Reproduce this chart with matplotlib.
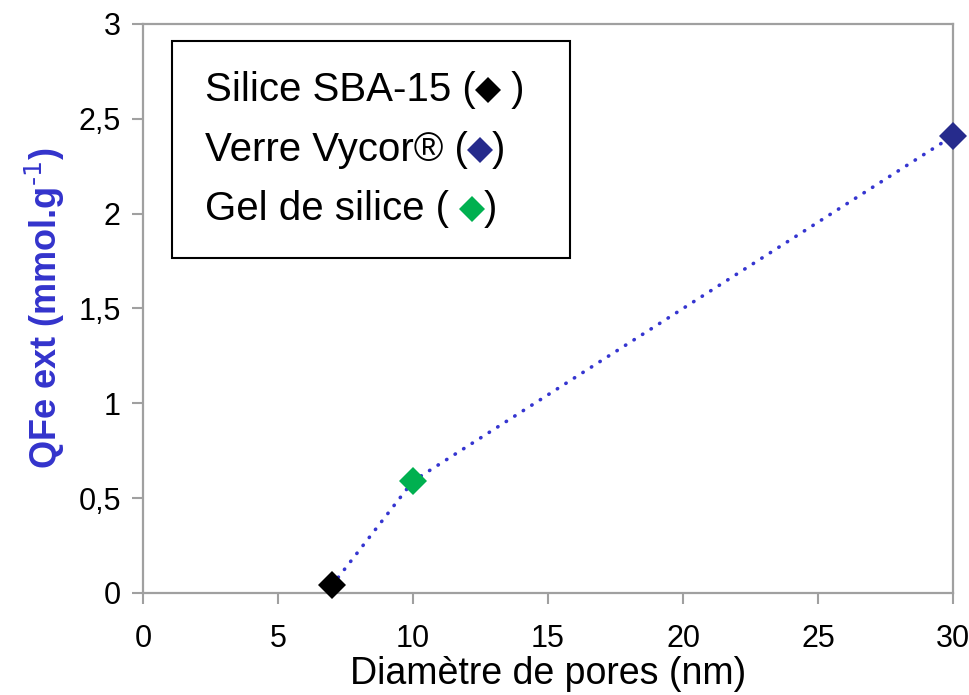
import matplotlib
matplotlib.use("Agg")
import matplotlib.pyplot as plt
from matplotlib.patches import Rectangle
from matplotlib.ticker import FuncFormatter

# Pore diameter (nm) and external Fe loading (mmol/g) per silica support
materials = ["Silice SBA-15", "Gel de silice", "Verre Vycor®"]
diametre_nm = [7, 10, 30]
qfe_ext = [0.04, 0.59, 2.41]
couleurs = ["#000000", "#00B050", "#262B8C"]

x_ticks = [0, 5, 10, 15, 20, 25, 30]
y_ticks = [0, 0.5, 1, 1.5, 2, 2.5, 3]

# Legend lines: text before the marker, text after it, marker colour
legende_avant = ["Silice SBA-15 (", "Verre Vycor® (", "Gel de silice ( "]
legende_apres = [" )", ")", ")"]
legende_couleurs = ["#000000", "#262B8C", "#00B050"]

plt.rcParams["font.family"] = ["Liberation Sans", "DejaVu Sans"]

fig = plt.figure(figsize=(9.69, 6.95), dpi=100)
ax = fig.add_axes([0.1476, 0.1468, 0.8359, 0.8187])

grey = "#A0A0A0"
ax.plot(diametre_nm, qfe_ext, linestyle=(0, (0.1, 2.7)), color="#3535D0",
        linewidth=2.6, dash_capstyle="round", zorder=2)
for x, y, c in zip(diametre_nm, qfe_ext, couleurs):
    ax.plot([x], [y], marker="D", markersize=14, color=c,
            markeredgewidth=0, linestyle="none", zorder=3, clip_on=False)

ax.set_xlim(0, 30)
ax.set_ylim(0, 3)
ax.set_xticks(x_ticks)
ax.set_yticks(y_ticks)
ax.yaxis.set_major_formatter(FuncFormatter(lambda v, p: f"{v:g}".replace(".", ",")))
ax.tick_params(axis="both", direction="out", length=8, width=1.5, color=grey,
               labelsize=22)
ax.tick_params(axis="x", pad=14)
ax.tick_params(axis="y", pad=8)
for s in ax.spines.values():
    s.set_color(grey)
    s.set_linewidth(1.6)

ax.set_xlabel("Diamètre de pores (nm)", fontsize=27, labelpad=2)
ax.set_ylabel(r"QFe ext (mmol.g$^{\text{-1}}$)", fontsize=26, fontweight="bold",
              color="#3333CC", labelpad=8)

# Framed text legend with inline coloured diamonds
ax.add_patch(Rectangle((0.0358, 0.589), 0.491, 0.381, transform=ax.transAxes,
                       fill=False, edgecolor="black", linewidth=1.5, zorder=4))
fig.canvas.draw()
renderer = fig.canvas.get_renderer()
inv = ax.transAxes.inverted()
baselines = [0.864, 0.759, 0.655]
for avant, apres, c, yb in zip(legende_avant, legende_apres, legende_couleurs, baselines):
    t = ax.text(0.0765, yb, avant, transform=ax.transAxes, fontsize=29,
                va="baseline", ha="left", zorder=5)
    bb = t.get_window_extent(renderer)
    x_end = bb.x1
    y_mid = ax.transAxes.transform((0, yb))[1] + 11
    mx, my = inv.transform((x_end + 12, y_mid))
    ax.plot([mx], [my], marker="D", markersize=13, color=c, markeredgewidth=0,
            transform=ax.transAxes, zorder=5)
    sx, _ = inv.transform((x_end + 24, 0))
    ax.text(sx, yb, apres, transform=ax.transAxes, fontsize=29,
            va="baseline", ha="left", zorder=5)

fig.savefig("out.png", dpi=100)
